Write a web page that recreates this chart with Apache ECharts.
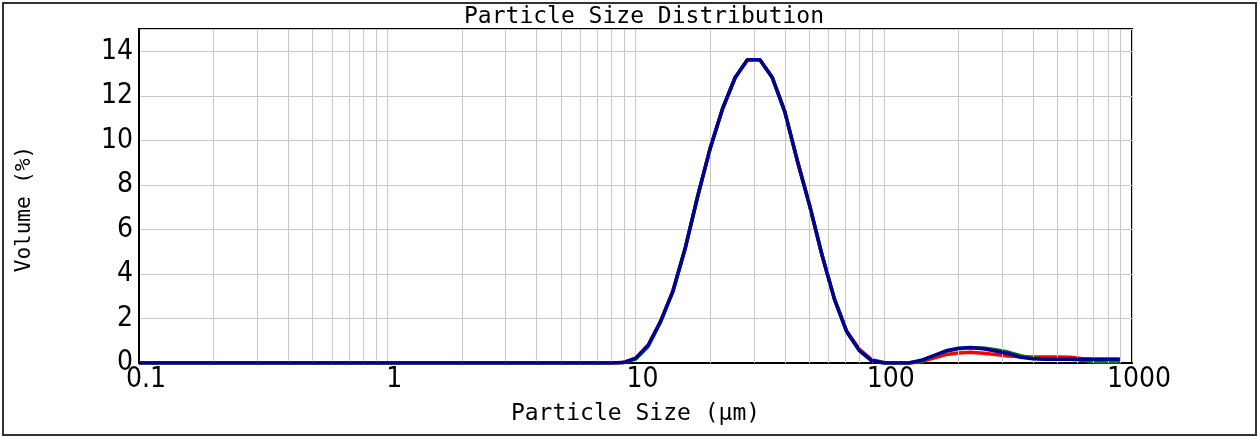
<!DOCTYPE html>
<html><head><meta charset="utf-8">
<script src="https://cdn.jsdelivr.net/npm/echarts@6/dist/echarts.min.js"></script>
<style>html,body{margin:0;padding:0;background:#fff}#c{width:1260px;height:437px}</style>
</head><body><div id="c"></div>
<script>
// Particle size classes (µm)
const sizes = [
  0.100, 0.112, 0.126, 0.142, 0.159, 0.178, 0.200, 0.224, 0.252, 0.283, 0.317, 0.356, 0.399, 0.448, 0.502, 0.564, 0.632, 0.710, 0.796, 0.893,
  1.002, 1.125, 1.262, 1.416, 1.589, 1.783, 2.000, 2.244, 2.518, 2.825, 3.170, 3.557, 3.991, 4.477, 5.024, 5.637, 6.325, 7.096, 7.962, 8.934,
  10.024, 11.247, 12.619, 14.159, 15.887, 17.825, 20.000, 22.440, 25.179, 28.251, 31.698, 35.566, 39.905, 44.774, 50.238, 56.368, 63.246, 70.963, 79.621, 89.337,
  100.237, 112.468, 126.191, 141.589, 158.866, 178.250, 200.000, 224.404, 251.785, 282.508, 316.979, 355.656, 399.052, 447.744, 502.377, 563.677, 632.456, 709.627, 796.214, 893.367
];
// Volume (%) for three measurements
const red = [
  0,0,0,0,0,0,0,0,0,0,0,0,0,0,0,0,0,0,0,0,
  0,0,0,0,0,0,0,0,0,0,0,0,0,0,0,0,0,0,0,0.02,
  0.22,0.80,1.87,3.24,5.19,7.51,9.65,11.43,12.81,13.62,13.62,12.82,11.30,9.12,7.09,4.86,2.88,1.42,0.63,0.15,
  0.02,0,0,0.06,0.22,0.38,0.45,0.48,0.44,0.38,0.31,0.28,0.27,0.27,0.27,0.26,0.19,0.17,0.17,0.17
];
const green = [
  0,0,0,0,0,0,0,0,0,0,0,0,0,0,0,0,0,0,0,0,
  0,0,0,0,0,0,0,0,0,0,0,0,0,0,0,0,0,0,0,0.02,
  0.18,0.74,1.84,3.22,5.18,7.51,9.65,11.43,12.81,13.62,13.62,12.82,11.30,9.12,7.09,4.86,2.88,1.40,0.57,0.11,
  0,0,0,0.09,0.31,0.53,0.64,0.69,0.67,0.60,0.49,0.33,0.22,0.18,0.17,0.17,0.12,0.05,0.04,0.04
];
const blue = [
  0,0,0,0,0,0,0,0,0,0,0,0,0,0,0,0,0,0,0,0,
  0,0,0,0,0,0,0,0,0,0,0,0,0,0,0,0,0,0,0,0.02,
  0.22,0.80,1.87,3.24,5.19,7.51,9.65,11.43,12.81,13.62,13.62,12.82,11.30,9.12,7.09,4.86,2.88,1.40,0.57,0.11,
  0,0,0,0.12,0.33,0.55,0.66,0.70,0.64,0.54,0.43,0.26,0.19,0.17,0.17,0.17,0.17,0.17,0.17,0.17
];
const decades = [0.1, 1, 10, 100];
const yMaxLabel = 14;

const labelFont = "'Liberation Sans Narrow', 'DejaVu Sans Condensed', sans-serif";
const monoFont = "'DejaVu Sans Mono', 'Liberation Mono', monospace";

const minorLines = [];
decades.forEach(d => { for (let k = 2; k <= 9; k++) minorLines.push({ xAxis: +(d * k).toPrecision(3) }); });

function pairs(ys) { return sizes.map((x, i) => [x, ys[i]]); }

const chart = echarts.init(document.getElementById('c'), null, { renderer: 'canvas' });
chart.setOption({
  animation: false,
  backgroundColor: '#fff',
  title: {
    text: 'Particle Size Distribution',
    left: 464, top: 6, padding: 0,
    textStyle: { fontFamily: monoFont, fontSize: 23, fontWeight: 'normal', color: '#000' }
  },
  grid: { left: 139, right: 128, top: 29, bottom: 74, show: true, borderColor: '#000', borderWidth: 2, backgroundColor: 'transparent' },
  xAxis: {
    type: 'log', logBase: 10, min: 0.1, max: 1000,
    name: 'Particle Size (µm)', nameLocation: 'middle', nameGap: 40,
    nameTextStyle: { fontFamily: monoFont, fontSize: 23, color: '#000' },
    axisLine: { show: true, onZero: false, lineStyle: { color: '#000', width: 2 } },
    axisTick: { show: false },
    axisLabel: { fontFamily: labelFont, fontSize: 28, color: '#000', margin: 3, padding: [0, 0, 0, 14],
      formatter: v => String(v) },
    splitLine: { show: true, lineStyle: { color: '#c8c8c8', width: 1 } }
  },
  yAxis: {
    type: 'value', min: 0, max: 15, interval: 2,
    name: 'Volume (%)', nameLocation: 'middle', nameGap: 104,
    nameTextStyle: { fontFamily: monoFont, fontSize: 21, color: '#000', padding: [0, 26, 0, 0] },
    axisLine: { show: true, lineStyle: { color: '#000', width: 2 } },
    axisTick: { show: false },
    axisLabel: { fontFamily: labelFont, fontSize: 28, color: '#000', margin: 6,
      formatter: v => (v > yMaxLabel ? '' : String(v)) },
    splitLine: { show: true, lineStyle: { color: '#c8c8c8', width: 1 } }
  },
  graphic: [{
    type: 'rect', silent: true, z: 100,
    shape: { x: 3, y: 3, width: 1253, height: 432 },
    style: { fill: 'none', stroke: '#333', lineWidth: 2 }
  }],
  series: [
    {
      type: 'line', name: 'grid', data: [], z: 1, silent: true,
      markLine: {
        silent: true, symbol: ['none', 'none'], animation: false,
        label: { show: false },
        lineStyle: { color: '#c8c8c8', width: 1, type: 'solid' },
        emphasis: { disabled: true },
        data: minorLines
      }
    },
    { type: 'line', name: 'red', data: pairs(red), showSymbol: false, symbol: 'none', z: 3,
      lineStyle: { color: '#ff0000', width: 3.5 }, itemStyle: { color: '#ff0000' } },
    { type: 'line', name: 'green', data: pairs(green), showSymbol: false, symbol: 'none', z: 4,
      lineStyle: { color: '#008000', width: 3.5 }, itemStyle: { color: '#008000' } },
    { type: 'line', name: 'blue', data: pairs(blue), showSymbol: false, symbol: 'none', z: 5,
      lineStyle: { color: '#000099', width: 3.5 }, itemStyle: { color: '#000099' } }
  ]
});
</script>
</body></html>
